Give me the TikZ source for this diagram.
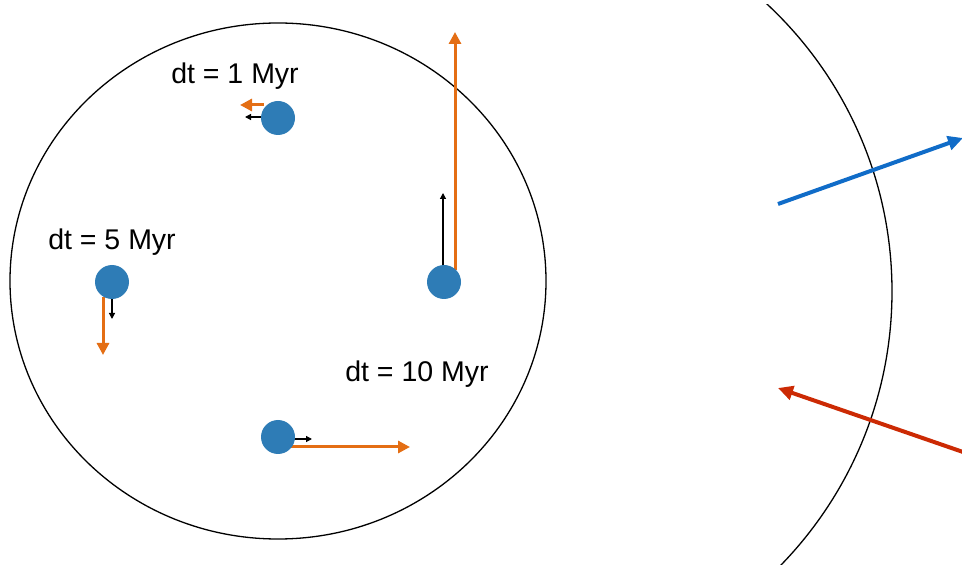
\documentclass[tikz,border=0pt]{standalone}
\usepackage{fontspec}
\setmainfont{Liberation Sans}
\usepackage{xcolor}
\usetikzlibrary{arrows.meta, calc}

\definecolor{dotblue}{RGB}{46,124,182}
\definecolor{vorange}{RGB}{228,110,20}
\definecolor{inblue}{RGB}{16,108,200}
\definecolor{outred}{RGB}{204,42,4}

\begin{document}
\begin{tikzpicture}[x=1pt, y=-1pt,
  dot/.style={circle, fill=dotblue, minimum size=34pt, inner sep=0pt},
  dtlabel/.style={font=\fontsize{28.5}{34}\selectfont},
  vnew/.style={vorange, line width=3pt, -{Triangle[length=12pt, width=12pt]}},
  vold/.style={black, line width=1.2pt, -{Triangle[length=6pt, width=6pt]}},
  flow/.style={line width=4pt, -{Triangle[length=15pt, width=14pt]}}]
\useasboundingbox (0,0) rectangle (962,569);

% the cluster
\draw[line width=1.3pt] (278,281) ellipse[x radius=268pt, y radius=258pt];

% star positions
\coordinate (c1) at (278,118);
\coordinate (c5) at (112,282);
\coordinate (c10) at (444,282);
\coordinate (c0) at (278,437);

% velocity arrows
\draw[vnew] ($(c1)+(-14,-13)$) -- ++(-24,0);
\draw[vold] ($(c1)+(-17,-1)$) -- ++(-16,0);
\draw[vnew] ($(c5)+(-9,15)$) -- ++(0,58);
\draw[vold] ($(c5)+(0,16)$) -- ++(0,21);
\draw[vnew] ($(c10)+(11,-12)$) -- ++(0,-238);
\draw[vold] ($(c10)+(-1,-17)$) -- ++(0,-72);
\draw[vnew] ($(c0)+(12,10)$) -- ++(120,0);
\draw[vold] ($(c0)+(15,2)$) -- ++(19,0);

% stars
\node[dot] (s1) at (c1) {};
\node[dot] (s5) at (c5) {};
\node[dot] (s10) at (c10) {};
\node[dot] (s0) at (c0) {};

\node[dtlabel] (l1) at (235,76) {dt = 1 Myr};
\node[dtlabel] (l5) at (112,242) {dt = 5 Myr};
\node[dtlabel] (l10) at (417,374) {dt = 10 Myr};

% boundary on the right
\begin{scope}
\clip (700,5) rectangle (962,564);
\draw[line width=1.3pt] (499.3,291.4) circle[radius=392.7pt];
\end{scope}

\coordinate (inS) at (778,204);
\coordinate (inE) at (963,138);
\coordinate (outS) at (963,452);
\coordinate (outE) at (778,388);
\draw[flow, inblue] (inS) -- (inE);
\draw[flow, outred] (outS) -- (outE);
\end{tikzpicture}
\end{document}
